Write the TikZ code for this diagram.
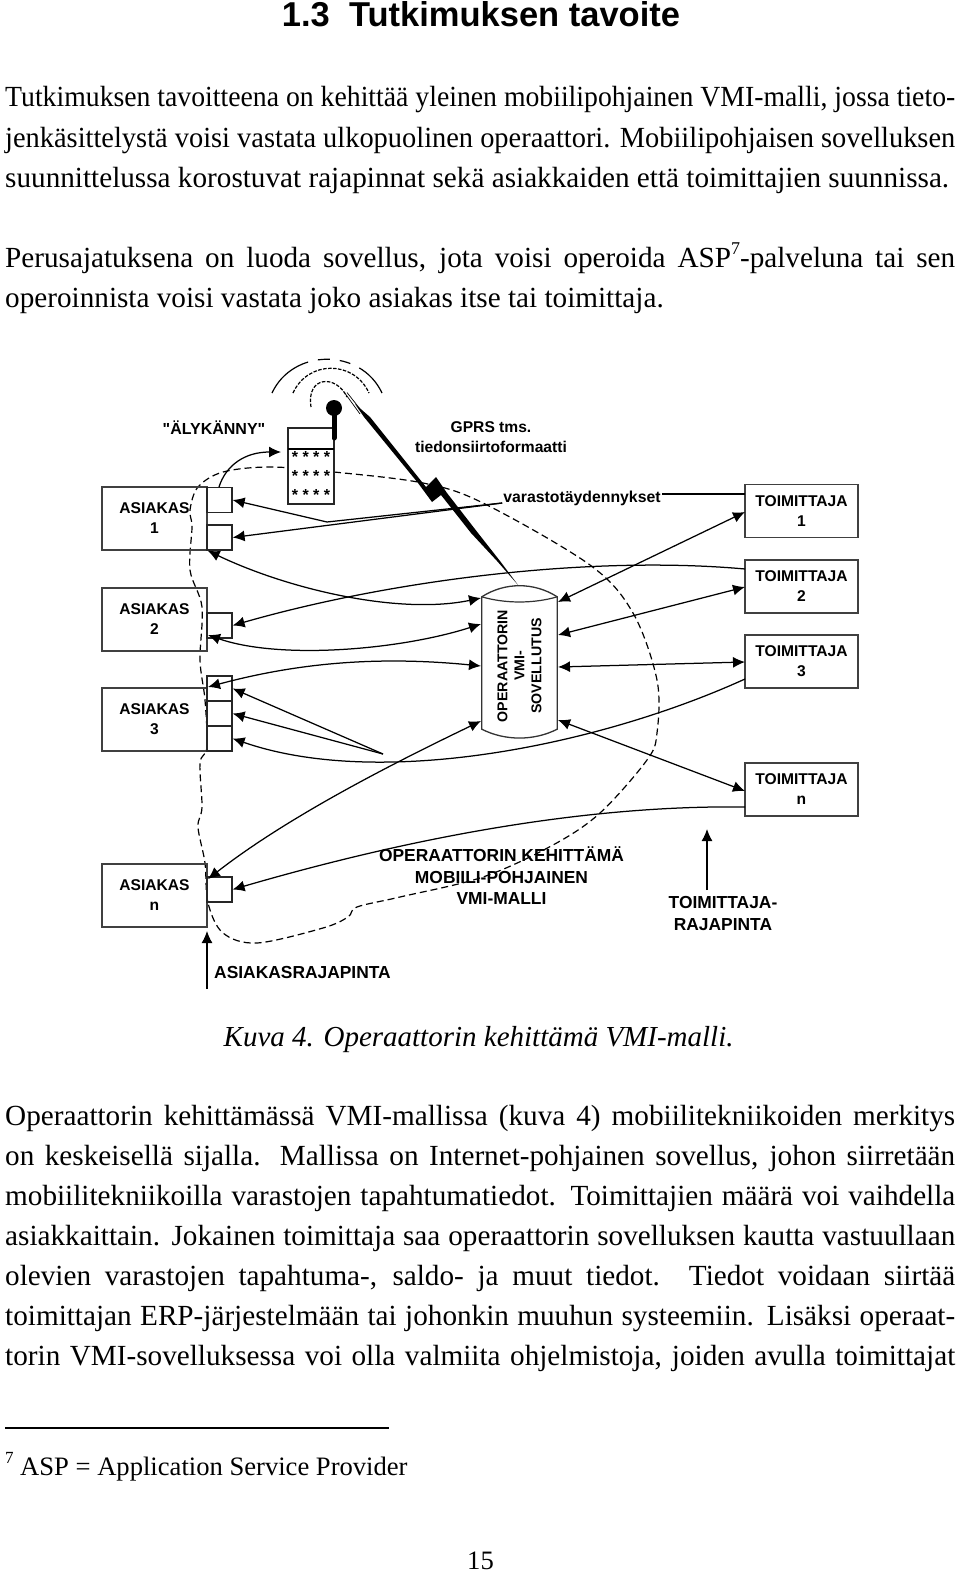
\documentclass[tikz,border=0pt]{standalone}
\usepackage{fontspec}
\usepackage{graphicx}
\setmainfont{Liberation Serif}
\newfontfamily\diagfont{Liberation Sans}[BoldFont={Liberation Sans Bold}]
\usetikzlibrary{arrows.meta,calc}
\newcommand{\jline}[1]{\hbox to 950pt{#1}}
\newcommand{\sline}[1]{\resizebox{950pt}{\height}{#1}}
\tikzset{
  bodytext/.style={anchor=base west,inner sep=0pt,font=\fontsize{29.2}{40}\selectfont},
  lbl/.style={inner sep=0pt,align=center,font=\diagfont\bfseries\fontsize{15.6}{20}\selectfont},
  biglbl/.style={inner sep=0pt,align=center,font=\diagfont\bfseries\fontsize{17.4}{21.5}\selectfont},
  boxnode/.style={draw=black!75,line width=1.3pt,fill=white,inner sep=0pt,align=center,font=\diagfont\bfseries\fontsize{15.6}{20}\selectfont},
  portbox/.style={draw=black!85,line width=1.2pt,minimum width=25pt,minimum height=25pt,inner sep=0pt},
  conn/.style={line width=1.25pt,-{Latex[length=12pt,width=11pt]}},
  dconn/.style={line width=1.25pt,{Latex[length=12pt,width=11pt]}-{Latex[length=12pt,width=11pt]}},
  plainconn/.style={line width=1.25pt},
  starrow/.style={anchor=base,inner sep=0pt,font=\diagfont\bfseries\fontsize{16}{16}\selectfont}
}
\begin{document}
\begin{tikzpicture}[x=1pt,y=-1pt]
\useasboundingbox (0,0) rectangle (960,1573);
\fill[white] (0,0) rectangle (960,1573);
% page text
\node[anchor=base,inner sep=0pt,font=\diagfont\bfseries\fontsize{34.5}{38}\selectfont] (head) at (481,27) {1.3\ \ Tutkimuksen tavoite};
\node[bodytext] (l1) at (5,107) {\sline{Tutkimuksen tavoitteena on kehittää yleinen mobiilipohjainen VMI-malli, jossa tieto-}};
\node[bodytext] (l2) at (5,148) {\sline{jenkäsittelystä voisi vastata ulkopuolinen operaattori. Mobiilipohjaisen sovelluksen}};
\node[bodytext] (l3) at (5,188) {suunnittelussa korostuvat rajapinnat sekä asiakkaiden että toimittajien suunnissa.};
\node[bodytext] (l4) at (5,267) {\jline{Perusajatuksena on luoda sovellus, jota voisi operoida ASP\raisebox{.42em}{\fontsize{18}{18}\selectfont 7}-palveluna tai sen}};
\node[bodytext] (l5) at (5,307) {operoinnista voisi vastata joko asiakas itse tai toimittaja.};
\node[bodytext,font=\itshape\fontsize{29}{40}\selectfont] (cap) at (223.5,1046) {Kuva 4. Operaattorin kehittämä VMI-malli.};
\node[bodytext] (m1) at (5,1125.5) {\jline{Operaattorin kehittämässä VMI-mallissa (kuva 4) mobiilitekniikoiden merkitys}};
\node[bodytext] (m2) at (5,1165.5) {\jline{on keskeisellä sijalla. Mallissa on Internet-pohjainen sovellus, johon siirretään}};
\node[bodytext] (m3) at (5,1205.5) {\jline{mobiilitekniikoilla varastojen tapahtumatiedot. Toimittajien määrä voi vaihdella}};
\node[bodytext] (m4) at (5,1245.5) {\jline{asiakkaittain. Jokainen toimittaja saa operaattorin sovelluksen kautta vastuullaan}};
\node[bodytext] (m5) at (5,1285.5) {\jline{olevien varastojen tapahtuma-, saldo- ja muut tiedot. Tiedot voidaan siirtää}};
\node[bodytext] (m6) at (5,1325.5) {\jline{toimittajan ERP-järjestelmään tai johonkin muuhun systeemiin. Lisäksi operaat-}};
\node[bodytext] (m7) at (5,1365.5) {\jline{torin VMI-sovelluksessa voi olla valmiita ohjelmistoja, joiden avulla toimittajat}};
\coordinate (fa) at (5,1428); \coordinate (fb) at (389,1428);
\draw[line width=1.5pt] (fa) -- (fb);
\node[bodytext,font=\fontsize{26.6}{40}\selectfont] (fn) at (5,1475) {\hbox to 15pt{\raisebox{.42em}{\fontsize{17}{17}\selectfont 7}\hfil}ASP = Application Service Provider};
\node[bodytext,font=\fontsize{26.6}{26.6}\selectfont] (pg) at (467,1569) {15};

% dashed boundary
\draw[line width=1.2pt,dash pattern=on 7pt off 4pt] plot[smooth cycle,tension=0.55] coordinates {
 (270,467) (334,472) (423,483) (483,503) (590,565) (633,613) (657,680) (657,733) (647,760) (600,813)
 (553,845) (483,877) (400,897) (357,907) (348,917) (323,928) (257,943) (223,933) (208,903) (205,863)
 (198,827) (202,807) (200,763) (207,747) (205,700) (200,660) (202,607) (190,570) (192,527) (190,510)
 (198,487) (223,472)};

% customer boxes
\node[boxnode,minimum width=105pt,minimum height=63pt,fill=none] (a1) at (154.5,518.5) {ASIAKAS\\1};
\node[boxnode,minimum width=105pt,minimum height=63pt,fill=none] (a2) at (154.5,619.5) {ASIAKAS\\2};
\node[boxnode,minimum width=105pt,minimum height=63pt,fill=none] (a3) at (154.5,719.5) {ASIAKAS\\3};
\node[boxnode,minimum width=105pt,minimum height=63pt,fill=none] (an) at (154.5,895.5) {ASIAKAS\\n};
\node[portbox] (p1a) at (219.5,500) {};
\node[portbox] (p1b) at (219.5,537.5) {};
\node[portbox] (p2) at (219.5,625.5) {};
\node[portbox] (p3a) at (219.5,688.5) {};
\node[portbox] (p3b) at (219.5,713.5) {};
\node[portbox] (p3c) at (219.5,738.5) {};
\node[portbox] (pn) at (219.5,889.5) {};

% supplier boxes
\node[boxnode,minimum width=113pt,minimum height=53pt] (t1) at (801.5,511) {TOIMITTAJA\\1};
\node[boxnode,minimum width=113pt,minimum height=53pt] (t2) at (801.5,586.5) {TOIMITTAJA\\2};
\node[boxnode,minimum width=113pt,minimum height=53pt] (t3) at (801.5,661.5) {TOIMITTAJA\\3};
\node[boxnode,minimum width=113pt,minimum height=53pt] (tn) at (801.5,789.5) {TOIMITTAJA\\n};

% radio waves
\coordinate (w1a) at (272,393); \coordinate (w1b) at (382,393);
\coordinate (w2a) at (293,393); \coordinate (w2b) at (369,393);
\coordinate (w3a) at (311,407); \coordinate (w3b) at (347,397);
\draw[line width=1.2pt,dash pattern=on 49pt off 10pt on 12pt off 10pt on 11pt off 10pt on 60pt] (w1a) .. controls (293,348) and (361,348) .. (w1b);
\draw[line width=1.2pt,dash pattern=on 3.5pt off 1.5pt] (w2a) .. controls (308,360) and (354,360) .. (w2b);
\draw[line width=1.2pt,dash pattern=on 3.5pt off 1.5pt] (w3a) .. controls (306,376) and (336,374) .. (w3b);

% phone
\node[draw=black!85,line width=1.2pt,fill=white,minimum width=46pt,minimum height=76pt,inner sep=0pt] (phone) at (311,466) {};
\coordinate (phl) at (288,449); \coordinate (phr) at (334,449);
\draw[line width=1.2pt] (phl) -- (phr);
\coordinate (antb) at (334,438); \coordinate (antt) at (334,408);
\draw[line width=5pt,line cap=round] (antb) -- (antt);
\fill (antt) circle (8);
\node[starrow] (s1) at (311,462) {* * * *};
\node[starrow] (s2) at (311,481) {* * * *};
\node[starrow] (s3) at (311,500) {* * * *};

% lightning
\coordinate (z1) at (347,392.5); \coordinate (z2) at (345.5,394); \coordinate (z3) at (364,414); \coordinate (z4) at (360,414);
\draw[line width=0.7pt] (z1) -- (z3);
\draw[line width=0.7pt] (z2) -- (z4);
\fill (355,404) -- (370,417) -- (426,487) -- (436,477) -- (447,493) -- (478,533) -- (500,561) -- (518,585)
  -- (497,561) -- (471,533) -- (441,495) -- (432,502) -- (418,483) -- (364,417) -- cycle;

% application cylinder
\node[minimum width=75pt,minimum height=132pt,inner sep=0pt] (vmi) at (519.5,663) {};
\draw[line width=1.3pt,draw=black!80,fill=white] (vmi.north west) .. controls (505,582) and (534,582) .. (vmi.north east)
  -- (vmi.south east) .. controls (534,741) and (505,741) .. (vmi.south west) -- cycle;
\draw[line width=1.2pt,draw=black!80] (vmi.north west) .. controls (505,603.7) and (534,603.7) .. (vmi.north east);
\node[rotate=90,inner sep=0pt,align=center,font=\diagfont\bfseries\fontsize{14.2}{17}\selectfont] (vmit) at (519.5,666) {OPERAATTORIN\\VMI-\\SOVELLUTUS};

% labels
\node[lbl,font=\diagfont\bfseries\fontsize{16}{20}\selectfont] (aly) at (214,428) {"ÄLYKÄNNY"};
\node[lbl] (gprs) at (491,437) {GPRS tms.\\tiedonsiirtoformaatti};
\node[lbl,font=\diagfont\bfseries\fontsize{15.8}{20}\selectfont] (var) at (582,498) {varastotäydennykset};
\node[biglbl] (opk) at (501.5,876) {OPERAATTORIN KEHITTÄMÄ\\MOBIILI-POHJAINEN\\VMI-MALLI};
\node[biglbl] (tr) at (723,913.5) {TOIMITTAJA-\\RAJAPINTA};
\node[biglbl,anchor=west] (ar) at (214,972) {ASIAKASRAJAPINTA};

% named connector points
\coordinate (v1) at (481,598); \coordinate (v2) at (481,624); \coordinate (v3) at (481,666); \coordinate (v4) at (481,721);
\coordinate (r1) at (558,602); \coordinate (r2) at (558,635); \coordinate (r3) at (558,667); \coordinate (r4) at (558,720);
\coordinate (j1) at (327,522); \coordinate (j3) at (383,754);
\coordinate (ve) at ($(var.east)+(1,-4)$); \coordinate (vw) at ($(var.west)+(-1,5)$);
\coordinate (t1l) at (745,494); \coordinate (t1a) at (745,512);
\coordinate (t2l) at (745,569); \coordinate (t2a) at (745,587);
\coordinate (t3l) at (745,679); \coordinate (t3a) at (745,662);
\coordinate (tnl) at (745,807); \coordinate (tna) at (745,791);
\coordinate (a2c) at (208,635); \coordinate (a3t) at (208,687); \coordinate (ant) at (208,879);
\coordinate (a1s) at (219,487); \coordinate (pha) at (281,452);
\coordinate (ar0) at (207,989); \coordinate (ar1) at (207,931);
\coordinate (tr0) at (707,890); \coordinate (tr1) at (707,829);

% connectors
\draw[conn] (a1s) .. controls (226,465) and (245,452) .. (pha);
\draw[plainconn] (t1l) -- (ve);
\draw[plainconn] (vw) -- (j1);
\draw[conn] (j1) -- (p1a.east);
\draw[conn] (vw) -- (p1b.east);
\draw[dconn] (a1.south east) .. controls (290,590) and (400,615) .. (v1);
\draw[conn] (t2l) .. controls (590,555) and (391,580) .. (p2.east);
\draw[dconn] (a2c) .. controls (280,660) and (400,650) .. (v2);
\draw[dconn] (a3t) .. controls (290,665) and (370,655) .. (v3);
\draw[conn] (t3l) .. controls (600,745) and (381,790) .. (p3c.east);
\draw[conn] (j3) -- (p3a.east);
\draw[conn] (j3) -- (p3b.east);
\draw[dconn] (v4) .. controls (400,760) and (290,815) .. (ant);
\draw[conn] (tnl) .. controls (600,805) and (430,832) .. (pn.east);
\draw[dconn] (t1a) -- (r1);
\draw[dconn] (t2a) -- (r2);
\draw[dconn] (t3a) -- (r3);
\draw[dconn] (tna) -- (r4);
\draw[conn] (ar0) -- (ar1);
\draw[conn] (tr0) -- (tr1);
\end{tikzpicture}
\end{document}
